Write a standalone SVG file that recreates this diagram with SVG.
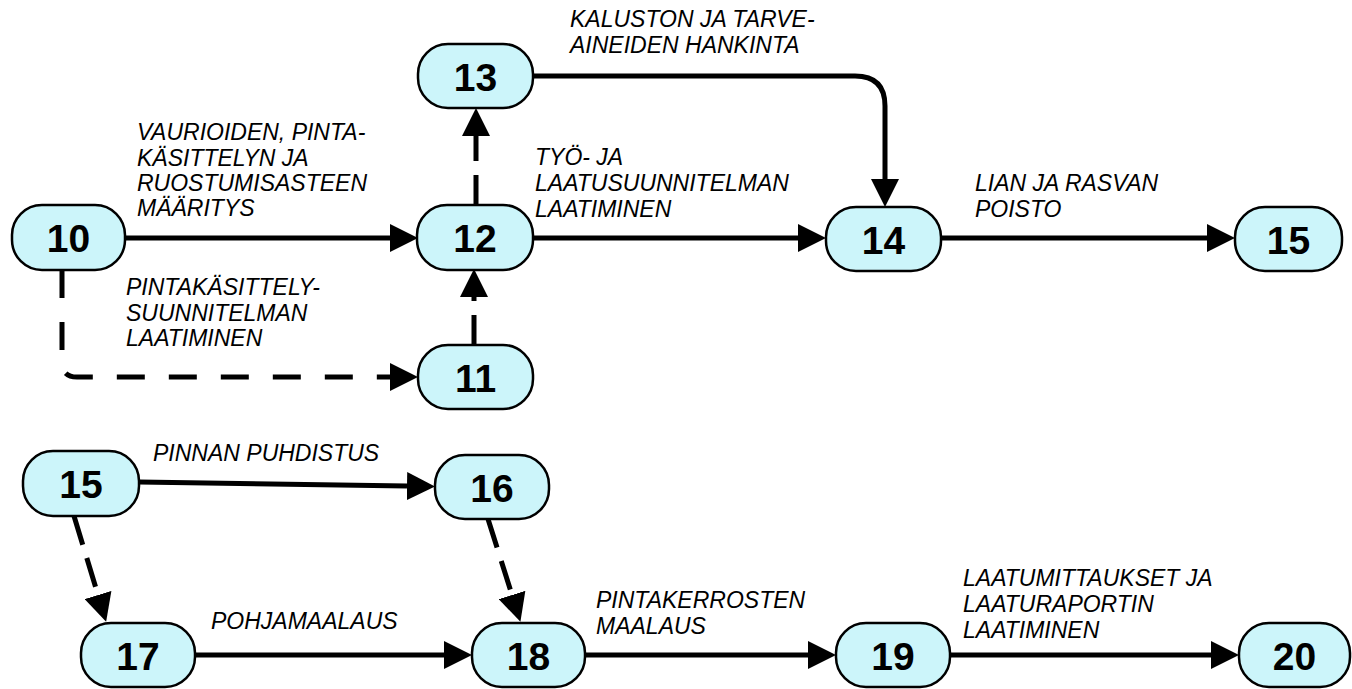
<svg xmlns="http://www.w3.org/2000/svg" width="1352" height="689" viewBox="0 0 1352 689">
<style>
.node rect{fill:#ccf5fa;stroke:#000;stroke-width:2.5}
.node text{font-family:"Liberation Sans",Arial,sans-serif;font-weight:bold;font-size:39px;text-anchor:middle;fill:#000}
.lbl{font-family:"Liberation Sans",Arial,sans-serif;font-style:italic;font-size:23px;fill:#000}
.c{fill:none;stroke:#000;stroke-width:5}
.d{stroke-dasharray:30 14}
.d2{stroke-dasharray:28 24}
</style>
<defs>
<marker id="ah" markerUnits="userSpaceOnUse" markerWidth="28" markerHeight="28" refX="0" refY="14" orient="auto" viewBox="0 0 28 28">
<path d="M0,0 L28,14 L0,28 z" fill="#000"/>
</marker>
</defs>
<rect width="1352" height="689" fill="#fff"/>
<g id="connectors">
<path class="c" d="M125,238 H390" marker-end="url(#ah)"/>
<path class="c d" d="M476,205 V136" marker-end="url(#ah)"/>
<path class="c d2" d="M62,270 V362 Q62,377 77,377 H390" marker-end="url(#ah)"/>
<path class="c d" d="M474,345 V297" marker-end="url(#ah)"/>
<path class="c" d="M533,76 H855 Q885,76 885,106 V179" marker-end="url(#ah)"/>
<path class="c" d="M533,238 H798" marker-end="url(#ah)"/>
<path class="c" d="M941,238 H1207" marker-end="url(#ah)"/>
<path class="c" d="M139,482 L407,486" marker-end="url(#ah)"/>
<path class="c d" d="M74,516 L98,595" marker-end="url(#ah)"/>
<path class="c d" d="M488,519 L512,595" marker-end="url(#ah)"/>
<path class="c" d="M195,655 H444" marker-end="url(#ah)"/>
<path class="c" d="M585,655 H808" marker-end="url(#ah)"/>
<path class="c" d="M950,655 H1211" marker-end="url(#ah)"/>
</g>
<g id="labels">
<text class="lbl" x="137" y="140">VAURIOIDEN, PINTA-</text>
<text class="lbl" x="137" y="165.5">KÄSITTELYN JA</text>
<text class="lbl" x="137" y="191">RUOSTUMISASTEEN</text>
<text class="lbl" x="137" y="216">MÄÄRITYS</text>
<text class="lbl" x="126" y="295">PINTAKÄSITTELY-</text>
<text class="lbl" x="126" y="320.5">SUUNNITELMAN</text>
<text class="lbl" x="126" y="346">LAATIMINEN</text>
<text class="lbl" x="570" y="27">KALUSTON JA TARVE-</text>
<text class="lbl" x="570" y="53">AINEIDEN HANKINTA</text>
<text class="lbl" x="535" y="165">TYÖ- JA</text>
<text class="lbl" x="535" y="191">LAATUSUUNNITELMAN</text>
<text class="lbl" x="535" y="217">LAATIMINEN</text>
<text class="lbl" x="975" y="191">LIAN JA RASVAN</text>
<text class="lbl" x="975" y="217">POISTO</text>
<text class="lbl" x="153" y="461">PINNAN PUHDISTUS</text>
<text class="lbl" x="211" y="629">POHJAMAALAUS</text>
<text class="lbl" x="596" y="608">PINTAKERROSTEN</text>
<text class="lbl" x="596" y="634">MAALAUS</text>
<text class="lbl" x="963" y="586">LAATUMITTAUKSET JA</text>
<text class="lbl" x="963" y="612">LAATURAPORTIN</text>
<text class="lbl" x="963" y="638">LAATIMINEN</text>
</g>
<g id="n10" class="node"><rect x="12" y="205" width="113" height="65" rx="30"/><text x="68.5" y="252">10</text></g>
<g id="n12" class="node"><rect x="417" y="205" width="116" height="65" rx="30"/><text x="475" y="252">12</text></g>
<g id="n13" class="node"><rect x="418" y="44" width="115" height="64" rx="30"/><text x="475.5" y="91">13</text></g>
<g id="n11" class="node"><rect x="418" y="345" width="115" height="64" rx="30"/><text x="475.5" y="392">11</text></g>
<g id="n14" class="node"><rect x="826" y="207" width="115" height="64" rx="30"/><text x="883.5" y="254">14</text></g>
<g id="n15a" class="node"><rect x="1235" y="207" width="107" height="64" rx="30"/><text x="1288.5" y="254">15</text></g>
<g id="n15b" class="node"><rect x="23" y="451" width="116" height="65" rx="30"/><text x="81" y="498">15</text></g>
<g id="n16" class="node"><rect x="435" y="455" width="114" height="64" rx="30"/><text x="492" y="502">16</text></g>
<g id="n17" class="node"><rect x="81" y="623" width="114" height="64" rx="30"/><text x="138" y="670">17</text></g>
<g id="n18" class="node"><rect x="472" y="623" width="113" height="64" rx="30"/><text x="528.5" y="670">18</text></g>
<g id="n19" class="node"><rect x="836" y="623" width="114" height="64" rx="30"/><text x="893" y="670">19</text></g>
<g id="n20" class="node"><rect x="1239" y="623" width="111" height="64" rx="30"/><text x="1294.5" y="670">20</text></g>
</svg>
